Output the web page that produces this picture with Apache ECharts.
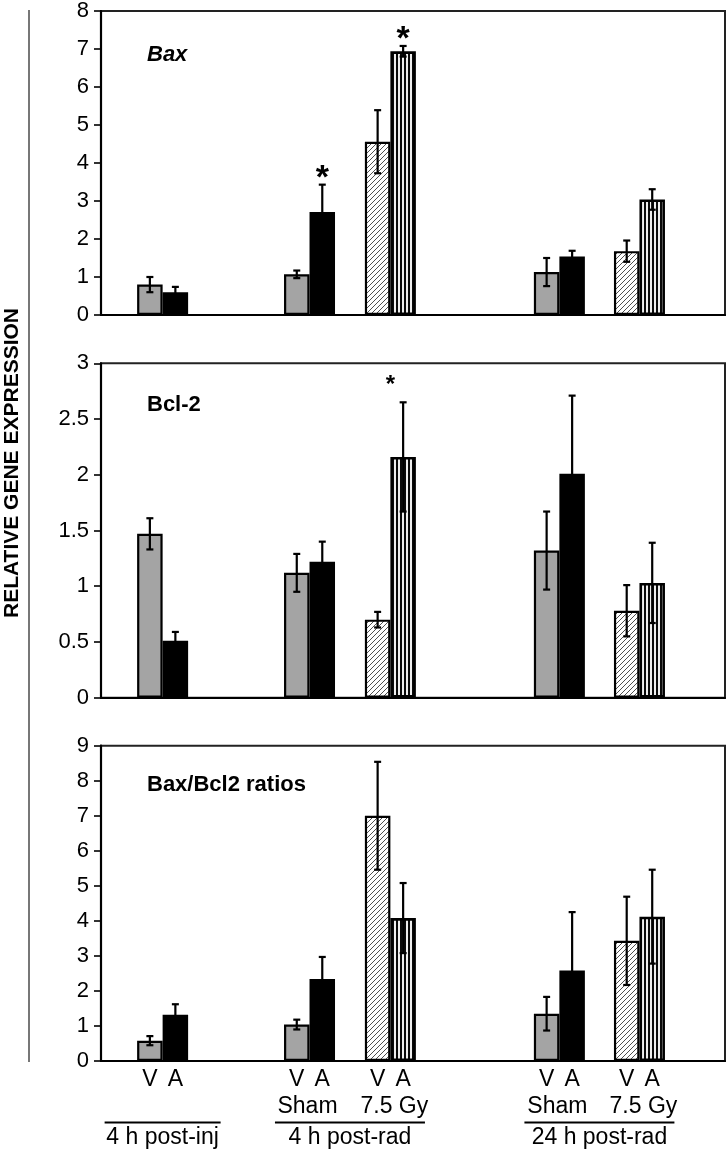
<!DOCTYPE html>
<html><head><meta charset="utf-8">
<script src="https://cdn.jsdelivr.net/npm/echarts@6/dist/echarts.min.js"></script>
<style>html,body{margin:0;padding:0;background:#fff}#c{width:728px;height:1149px}</style>
</head><body><div id="c"></div>
<script>
// ---------- data ----------
const groups = ['4 h post-inj', '4 h post-rad Sham', '4 h post-rad 7.5 Gy', '24 h post-rad Sham', '24 h post-rad 7.5 Gy'];
const irradiated = [false, false, true, false, true];
const barLabels = ['V', 'A'];
const treatLabels = ['', 'Sham', '7.5 Gy', 'Sham', '7.5 Gy'];
const timeLabels = ['4 h post-inj', '4 h post-rad', '24 h post-rad'];
const timeSpans = [[0, 0], [1, 2], [3, 4]];
const panelTitles = ['Bax', 'Bcl-2', 'Bax/Bcl2 ratios'];
const yTitle = 'RELATIVE GENE EXPRESSION';

const baxV = [0.80, 1.07, 4.56, 1.13, 1.68];
const baxVErr = [0.20, 0.10, 0.83, 0.37, 0.28];
const baxA = [0.60, 2.71, 6.94, 1.54, 3.04];
const baxAErr = [0.14, 0.72, 0.14, 0.15, 0.27];

const bclV = [1.47, 1.12, 0.70, 1.32, 0.78];
const bclVErr = [0.14, 0.17, 0.07, 0.35, 0.23];
const bclA = [0.51, 1.22, 2.16, 2.01, 1.03];
const bclAErr = [0.08, 0.18, 0.49, 0.70, 0.36];

const ratioV = [0.58, 1.04, 7.00, 1.35, 3.43];
const ratioVErr = [0.13, 0.14, 1.54, 0.48, 1.26];
const ratioA = [1.32, 2.34, 4.08, 2.58, 4.12];
const ratioAErr = [0.30, 0.63, 1.00, 1.67, 1.34];

const yMax = [8, 3, 9];
const yInterval = [1, 0.5, 1];

// significance marks: [group index, bar (0=V,1=A)]
const baxStars = [[1, 1], [2, 1]];
const bclStars = [[2, 1]];

// ---------- layout / style ----------
const groupPos = [2.37, 8.02, 11.13, 17.63, 20.71]; // position of each pair on the 0..24 x scale
const X_MAX = 24;
const BAR_W = 25.5;
const FONT = 'Arial, "Liberation Sans", Helvetica, sans-serif';
const grids = [
  {left: 101, right: 3, top: 9.5, height: 305.5},
  {left: 101, right: 3, top: 363.3, height: 334.4},
  {left: 101, right: 3, top: 745.7, height: 315.3}
];

function hatchPattern() {
  const s = 5, c = document.createElement('canvas');
  c.width = s; c.height = s;
  const g = c.getContext('2d');
  g.fillStyle = '#fff'; g.fillRect(0, 0, s, s);
  g.strokeStyle = '#505050'; g.lineWidth = 1;
  g.beginPath();
  g.moveTo(0, s); g.lineTo(s, 0);
  g.moveTo(-1, 1); g.lineTo(1, -1);
  g.moveTo(s - 1, s + 1); g.lineTo(s + 1, s - 1);
  g.stroke();
  return c;
}
function stripePattern() {
  const c = document.createElement('canvas');
  c.width = 4; c.height = 4;
  const g = c.getContext('2d');
  g.fillStyle = '#eeeeee'; g.fillRect(0, 0, 4, 4);
  g.fillStyle = '#0a0a0a'; g.fillRect(0, 0, 2, 4);
  return c;
}
const HATCH = {image: hatchPattern(), repeat: 'repeat'};
const STRIPE = {image: stripePattern(), repeat: 'repeat'};
const GRAY = '#a4a4a4';

function barSeries(p, name, vals, isA) {
  return {
    type: 'bar', name: name, xAxisIndex: p, yAxisIndex: p,
    barWidth: BAR_W, barGap: '0%', z: 2,
    data: vals.map((v, i) => ({
      value: [groupPos[i], v],
      itemStyle: {
        color: irradiated[i] ? (isA ? STRIPE : HATCH) : (isA ? '#000' : GRAY),
        borderColor: '#000', borderWidth: (irradiated[i] && isA) ? 2.6 : 2.2
      }
    }))
  };
}

function errSeries(p, vals, errs, side) {
  return {
    type: 'custom', xAxisIndex: p, yAxisIndex: p, z: 5, silent: true,
    data: vals.map((v, i) => [groupPos[i], v, errs[i]]),
    renderItem(params, api) {
      const x = api.value(0), y = api.value(1), e = api.value(2);
      const t = api.coord([x, y + e]), b = api.coord([x, y - e]);
      const cx = t[0] + side * BAR_W / 2, cap = 3.5;
      const st = {stroke: '#000', lineWidth: 2.2};
      return {type: 'group', children: [
        {type: 'line', shape: {x1: cx, y1: t[1], x2: cx, y2: b[1]}, style: st},
        {type: 'line', shape: {x1: cx - cap, y1: t[1], x2: cx + cap, y2: t[1]}, style: st},
        {type: 'line', shape: {x1: cx - cap, y1: b[1], x2: cx + cap, y2: b[1]}, style: st}
      ]};
    }
  };
}

function starSeries(p, stars, V, VE, A, AE, size, gap, centerOnPair) {
  return {
    type: 'custom', xAxisIndex: p, yAxisIndex: p, z: 6, silent: true,
    data: stars.map(s => {
      const i = s[0];
      const top = s[1] ? A[i] + AE[i] : V[i] + VE[i];
      return [groupPos[i], top, s[1]];
    }),
    renderItem(params, api) {
      const c = api.coord([api.value(0), api.value(1)]);
      const side = centerOnPair ? 0 : (api.value(2) ? 1 : -1);
      return {type: 'text', style: {
        text: '*', x: c[0] + side * BAR_W / 2, y: c[1] - gap,
        align: 'center', verticalAlign: 'middle',
        font: 'bold ' + size + 'px ' + FONT, fill: '#000'
      }};
    }
  };
}

const labelSeries = {
  type: 'custom', xAxisIndex: 2, yAxisIndex: 2, z: 6, silent: true,
  data: groups.map((g, i) => [groupPos[i], 0, i]),
  renderItem(params, api) {
    const i = api.value(2);
    const c = api.coord([api.value(0), 0]);
    const ts = (txt, x, y) => ({type: 'text', style: {text: txt, x: x, y: y, align: 'center', verticalAlign: 'middle', font: '23px ' + FONT, fill: '#000'}});
    const ch = [
      ts(barLabels[0], c[0] - BAR_W / 2, c[1] + 19),
      ts(barLabels[1], c[0] + BAR_W / 2, c[1] + 19)
    ];
    if (treatLabels[i]) ch.push(ts(treatLabels[i], c[0] + (irradiated[i] ? 4 : -2), c[1] + 46));
    timeSpans.forEach((sp, k) => {
      if (sp[0] === i) {
        const l = api.coord([groupPos[sp[0]], 0])[0];
        const r = api.coord([groupPos[sp[1]], 0])[0];
        const half = sp[0] === sp[1] ? 58 : 75;
        const mid = (l + r) / 2;
        ch.push({type: 'line', shape: {x1: mid - half, y1: c[1] + 61.5, x2: mid + half, y2: c[1] + 61.5}, style: {stroke: '#000', lineWidth: 2.2}});
        ch.push(ts(timeLabels[k], mid, c[1] + 77));
      }
    });
    return {type: 'group', children: ch};
  }
};

const chart = echarts.init(document.getElementById('c'), null, {renderer: 'canvas'});
const option = {
  animation: false,
  backgroundColor: '#fff',
  grid: grids.map(g => Object.assign({show: true, borderColor: '#222', borderWidth: 2, backgroundColor: 'transparent'}, g)),
  xAxis: grids.map((g, p) => ({
    type: 'value', gridIndex: p, min: 0, max: X_MAX,
    axisLine: {show: true, onZero: false, lineStyle: {color: '#000', width: 2.2}},
    axisTick: {show: false}, axisLabel: {show: false}, splitLine: {show: false}
  })),
  yAxis: grids.map((g, p) => ({
    type: 'value', gridIndex: p, min: 0, max: yMax[p], interval: yInterval[p],
    axisLine: {show: true, lineStyle: {color: '#000', width: 2.2}},
    axisTick: {show: true, inside: false, length: 7, lineStyle: {color: '#000', width: 1.6}},
    axisLabel: {color: '#000', fontSize: 22, fontFamily: FONT, margin: 12},
    splitLine: {show: false}
  })),
  graphic: [
    {type: 'line', shape: {x1: 29, y1: 10, x2: 29, y2: 1062}, style: {stroke: '#555', lineWidth: 1.6}},
    {type: 'text', x: 12, y: 463, rotation: Math.PI / 2, style: {text: yTitle, align: 'center', verticalAlign: 'middle', font: 'bold 21px ' + FONT, fill: '#000'}},
    {type: 'text', x: 147, y: 55, style: {text: panelTitles[0], verticalAlign: 'middle', font: 'italic bold 22px ' + FONT, fill: '#000'}},
    {type: 'text', x: 147, y: 405, style: {text: panelTitles[1], verticalAlign: 'middle', font: 'bold 22px ' + FONT, fill: '#000'}},
    {type: 'text', x: 147, y: 785, style: {text: panelTitles[2], verticalAlign: 'middle', font: 'bold 22px ' + FONT, fill: '#000'}}
  ],
  series: [
    barSeries(0, 'V', baxV, false), barSeries(0, 'A', baxA, true),
    errSeries(0, baxV, baxVErr, -1), errSeries(0, baxA, baxAErr, 1),
    starSeries(0, baxStars, baxV, baxVErr, baxA, baxAErr, 34, 6, false),
    barSeries(1, 'V', bclV, false), barSeries(1, 'A', bclA, true),
    errSeries(1, bclV, bclVErr, -1), errSeries(1, bclA, bclAErr, 1),
    starSeries(1, bclStars, bclV, bclVErr, bclA, bclAErr, 24, 17, true),
    barSeries(2, 'V', ratioV, false), barSeries(2, 'A', ratioA, true),
    errSeries(2, ratioV, ratioVErr, -1), errSeries(2, ratioA, ratioAErr, 1),
    labelSeries
  ]
};
chart.setOption(option);
</script></body></html>
